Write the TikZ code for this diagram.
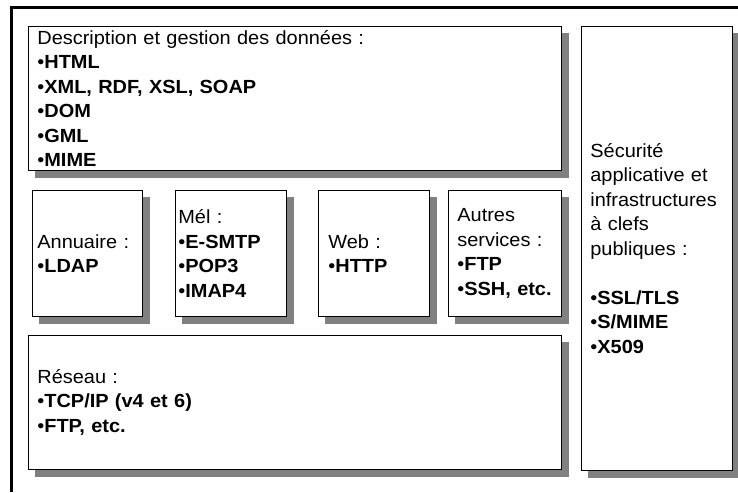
\documentclass[tikz,border=0pt]{standalone}
\usepackage{fontspec}
\setmainfont[FakeStretch=1.05]{Liberation Sans}
\usetikzlibrary{backgrounds}
\definecolor{shadowgray}{RGB}{128,128,128}
\tikzset{
  layer/.style={draw=black, line width=0.75pt, fill=white, anchor=north west,
    align=left, inner ysep=0pt, font=\fontsize{19}{24.5}\selectfont},
  shadowbox/.style={fill=shadowgray},
  frameline/.style={draw=black, line width=2.5pt}
}
\begin{document}
\begin{tikzpicture}[x=1pt, y=-1pt]
\useasboundingbox (0,0) rectangle (738,492);
% outer frame
\coordinate (fbl) at (11.5,492);
\coordinate (ftl) at (11.5,7.5);
\coordinate (ftr) at (738,7.5);
\draw[frameline] (fbl) -- (ftl) -- (ftr);
% boxes
\node[layer, minimum width=533pt, minimum height=144pt, text width=515pt, inner xsep=9pt] (desc) at (28,26)
  {Description et gestion des données :\\•\textbf{HTML}\\•\textbf{XML, RDF, XSL, SOAP}\\•\textbf{DOM}\\•\textbf{GML}\\•\textbf{MIME}};
\node[layer, minimum width=151pt, minimum height=444pt, text width=133pt, inner xsep=9pt] (sec) at (581,26)
  {Sécurité\\applicative et\\infrastructures\\à clefs\\publiques :\\[24.5pt]•\textbf{SSL/TLS}\\•\textbf{S/MIME}\\•\textbf{X509}};
\node[layer, minimum width=110pt, minimum height=126pt, text width=100pt, inner xsep=5pt] (ann) at (32,190)
  {Annuaire :\\•\textbf{LDAP}};
\node[layer, minimum width=111pt, minimum height=126pt, text width=105pt, inner xsep=3pt] (mel) at (175,190)
  {Mél :\\•\textbf{E-SMTP}\\•\textbf{POP3}\\•\textbf{IMAP4}};
\node[layer, minimum width=111pt, minimum height=126pt, text width=91pt, inner xsep=10pt] (web) at (318,190)
  {Web :\\•\textbf{HTTP}};
\node[layer, minimum width=113pt, minimum height=126pt, text width=95pt, inner xsep=9pt] (aut) at (448,190)
  {Autres\\services :\\•\textbf{FTP}\\•\textbf{SSH, etc.}};
\node[layer, minimum width=533pt, minimum height=134pt, text width=515pt, inner xsep=9pt] (res) at (28,335)
  {Réseau :\\•\textbf{TCP/IP (v4 et 6)}\\•\textbf{FTP, etc.}};
% shadows
\begin{scope}[on background layer]
  \fill[white] (0,0) rectangle (738,492);
  \foreach \b in {desc,sec,ann,mel,web,aut,res}{
    \fill[shadowbox] ([shift={(7,7)}]\b.north west) rectangle ([shift={(7,7)}]\b.south east);
  }
\end{scope}
\end{tikzpicture}
\end{document}
